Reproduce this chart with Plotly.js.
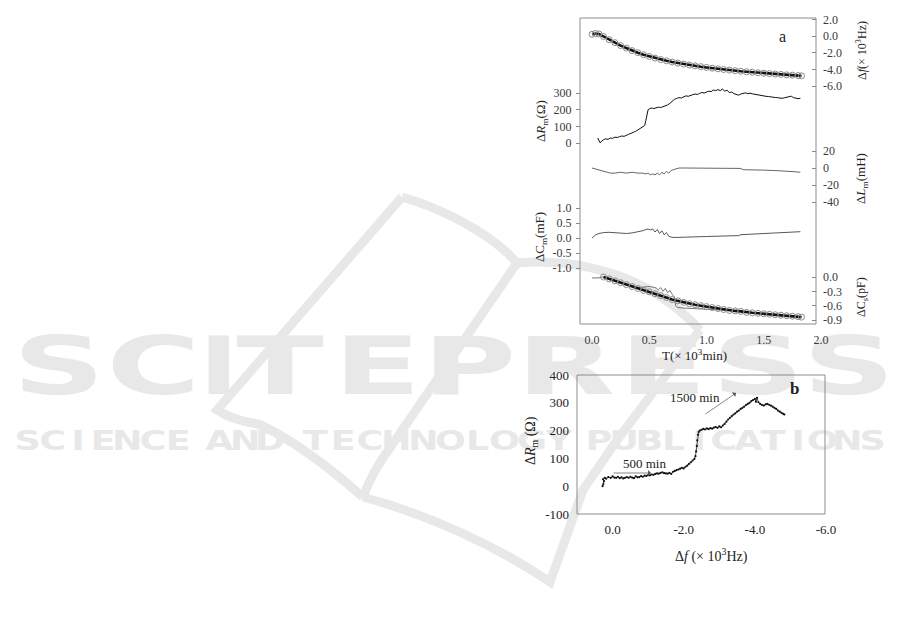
<!DOCTYPE html>
<html><head><meta charset="utf-8">
<script src="https://cdn.plot.ly/plotly-3.0.1.min.js"></script>
<style>
html,body{margin:0;padding:0;background:#fff;}
#wm,#chart{position:absolute;left:0;top:0;width:901px;height:623px;}
</style>
</head><body>
<div id="wm"></div><div id="chart"></div>
<script>
// ---------------- DATA ----------------
const T_f = [0.00,0.03,0.06,0.10,0.15,0.20,0.25,0.30,0.35,0.40,0.45,0.50,0.55,0.60,0.65,0.70,0.75,0.80,0.85,0.90,0.95,1.00,1.05,1.10,1.15,1.20,1.25,1.30,1.35,1.40,1.45,1.50,1.55,1.60,1.65,1.70,1.75,1.80,1.83];
const df_a = [0.2,0.3,0.25,-0.05,-0.45,-0.8,-1.15,-1.45,-1.75,-2.0,-2.25,-2.45,-2.65,-2.82,-2.98,-3.12,-3.25,-3.37,-3.48,-3.58,-3.68,-3.77,-3.86,-3.94,-4.02,-4.09,-4.16,-4.23,-4.29,-4.35,-4.41,-4.46,-4.51,-4.56,-4.61,-4.66,-4.70,-4.75,-4.78];
const T_R = [0.05,0.06,0.07,0.08,0.10,0.12,0.14,0.16,0.18,0.20,
0.22,0.24,0.26,0.28,0.30,0.32,0.34,0.36,0.38,0.40,
0.42,0.44,0.46,0.47,0.48,0.49,0.50,0.52,0.54,0.56,
0.58,0.60,0.62,0.64,0.66,0.68,0.70,0.72,0.74,0.76,
0.78,0.80,0.82,0.84,0.86,0.88,0.90,0.92,0.94,0.96,
0.98,1.00,1.02,1.04,1.06,1.08,1.10,1.12,1.14,1.16,
1.18,1.20,1.22,1.24,1.26,1.28,1.30,1.32,1.34,1.36,
1.38,1.40,1.42,1.44,1.46,1.48,1.50,1.52,1.54,1.56,
1.58,1.60,1.62,1.64,1.66,1.68,1.70,1.72,1.74,1.76,
1.78,1.80,1.82];
const dR_a = [30,12,2,8,20,25,22,30,28,35,
33,38,42,40,48,52,58,62,70,78,
88,95,105,135,175,200,205,210,207,212,
215,213,218,222,228,238,252,262,268,272,
270,278,283,280,287,290,294,291,298,303,
300,307,311,308,318,314,320,315,323,311,
317,302,306,296,290,287,294,298,301,296,
299,295,292,291,287,285,283,280,279,276,
275,273,272,270,268,271,273,277,281,272,
268,266,268];
const T_L = [0.00,0.08,0.12,0.16,0.20,0.25,0.30,0.35,0.40,0.44,0.47,0.49,0.51,0.53,0.55,0.57,0.59,0.61,0.63,0.65,0.67,0.69,0.71,0.73,0.76,0.80,0.90,1.00,1.10,1.20,1.30,1.32,1.34,1.40,1.50,1.60,1.70,1.78,1.82];
const dL_a = [0,-3,-5,-6,-6,-5,-6,-5,-6,-6,-7,-6,-8,-7,-8,-6,-8,-5,-7,-4,-6,-3,-2,-1,0,0,0,0,0,0,-0.5,-2,-2,-2,-2.5,-3,-3.5,-4.5,-5];
const T_Cm = [0.00,0.03,0.06,0.10,0.15,0.20,0.25,0.30,0.35,0.40,0.44,0.47,0.49,0.51,0.53,0.55,0.57,0.59,0.61,0.63,0.65,0.67,0.70,0.75,0.80,0.90,1.00,1.10,1.20,1.28,1.30,1.40,1.50,1.60,1.70,1.80,1.82];
const dCm_a = [0.0,0.1,0.15,0.18,0.19,0.18,0.17,0.15,0.17,0.2,0.24,0.28,0.3,0.27,0.3,0.2,0.28,0.15,0.24,0.11,0.18,0.06,0.02,0.02,0.03,0.04,0.05,0.06,0.07,0.08,0.11,0.13,0.15,0.16,0.18,0.21,0.21];
const T_Cs = [0.10,0.15,0.20,0.25,0.30,0.35,0.40,0.45,0.50,0.55,0.60,0.65,0.70,0.75,0.80,0.85,0.90,0.95,1.00,1.05,1.10,1.15,1.20,1.25,1.30,1.35,1.40,1.45,1.50,1.55,1.60,1.65,1.70,1.75,1.80,1.83];
const dCs_a = [0.0,-0.04,-0.08,-0.12,-0.16,-0.2,-0.24,-0.28,-0.31,-0.35,-0.39,-0.43,-0.47,-0.5,-0.53,-0.56,-0.58,-0.6,-0.62,-0.64,-0.66,-0.68,-0.7,-0.71,-0.72,-0.74,-0.75,-0.76,-0.77,-0.78,-0.79,-0.8,-0.81,-0.82,-0.83,-0.84];
const T_Cs2 = [0.00,0.05,0.10,0.20,0.30,0.40,0.44,0.47,0.50,0.53,0.56,0.58,0.60,0.62,0.64,0.66,0.68,0.70,0.72,0.73,0.75,0.80,0.90,1.00,1.05,1.10,1.20,1.50,1.83];
const dCs2_a = [-0.02,-0.02,0.0,-0.08,-0.16,-0.22,-0.21,-0.2,-0.2,-0.21,-0.23,-0.27,-0.22,-0.3,-0.24,-0.33,-0.28,-0.36,-0.42,-0.6,-0.64,-0.65,-0.66,-0.67,-0.67,-0.68,-0.7,-0.77,-0.84];
const b_df = [0.28,0.26,0.24,0.27,0.22,0.18,0.12,0.05,0.0,
-0.05,-0.1,-0.15,-0.2,-0.25,-0.3,-0.35,-0.4,-0.45,-0.5,-0.55,-0.6,-0.65,-0.7,-0.75,-0.8,-0.85,-0.9,-0.95,-1.0,
-1.05,-1.1,-1.15,-1.2,-1.25,-1.3,-1.35,-1.4,-1.45,-1.5,-1.55,-1.6,-1.65,-1.7,-1.75,-1.8,-1.85,-1.9,-1.95,-2.0,
-2.05,-2.1,-2.15,-2.2,-2.25,-2.3,
-2.33,-2.35,-2.37,-2.38,-2.4,-2.42,-2.45,
-2.5,-2.55,-2.6,-2.65,-2.7,-2.75,-2.8,-2.85,-2.9,-2.95,-3.0,-3.05,-3.1,-3.15,-3.2,-3.25,-3.3,-3.35,-3.4,-3.45,
-3.5,-3.55,-3.6,-3.65,-3.7,-3.75,-3.8,-3.85,-3.9,-3.95,-4.0,
-4.03,-4.06,-4.1,
-4.15,-4.2,-4.25,-4.3,-4.35,-4.4,-4.45,-4.5,-4.55,-4.6,-4.65,-4.7,-4.75,-4.8,
-4.83];
const b_dR = [0,8,18,25,30,27,33,30,35,
31,30,34,29,32,28,30,33,30,34,31,29,35,32,33,36,34,38,37,40,
39,42,41,44,46,45,48,50,47,46,45,48,44,52,55,58,60,63,66,64,
70,74,80,86,92,98,
108,125,145,165,185,195,200,
203,206,204,208,205,209,207,211,213,210,215,212,218,224,232,240,246,252,258,262,
268,272,278,282,286,292,296,300,306,310,314,
304,318,302,
296,292,290,294,296,293,290,286,282,278,272,268,264,260,
258];
const ticksT = [0,0.5,1,1.5,2], ticksT_txt = ['0.0','0.5','1.0','1.5','2.0'];
const ticksR = [0,100,200,300], ticksR_txt = ['0','100','200','300'];
const ticksF = [2,0,-2,-4,-6], ticksF_txt = ['2.0','0.0','-2.0','-4.0','-6.0'];
const ticksL = [20,0,-20,-40], ticksL_txt = ['20','0','-20','-40'];
const ticksCm = [1,0.5,0,-0.5,-1], ticksCm_txt = ['1.0','0.5','0.0','-0.5','-1.0'];
const ticksCs = [0,-0.3,-0.6,-0.9], ticksCs_txt = ['0.0','-0.3','-0.6','-0.9'];
const ticksBx = [0,-2,-4,-6], ticksBx_txt = ['0.0','-2.0','-4.0','-6.0'];
const ticksBy = [-100,0,100,200,300,400], ticksBy_txt = ['-100','0','100','200','300','400'];

// ---------------- LAYOUT ----------------
const W = 901, H = 623;
const fx = p => p / W, fy = p => 1 - p / H;
function rng(v1, p1, v2, p2, top, bot) {
  const k = (p2 - p1) / (v2 - v1);
  return [v1 + (bot - p1) / k, v1 + (top - p1) / k];
}
const SERIF = 'Liberation Serif, Times New Roman, serif';
const tfA = {family: SERIF, size: 12, color: '#3a3a3a'};
const tfB = {family: SERIF, size: 13, color: '#222'};
const A_TOP = 18, A_BOT = 324, A_L = 580, A_R = 816;
const baseY = {showgrid: false, zeroline: false, showline: false, ticks: 'outside', ticklen: 4,
  tickcolor: '#888', tickwidth: 1, tickfont: tfA, domain: [fy(A_BOT), fy(A_TOP)], anchor: 'free'};
const leftY = Object.assign({}, baseY, {side: 'left', position: fx(A_L), ticklabelstandoff: 2});
const rightY = Object.assign({}, baseY, {side: 'right', position: fx(A_R), ticks: 'inside', ticklabelstandoff: 6});
const bigLine = {color: '#111', width: 2.6};
const bigMarker = {symbol: 'circle-open', size: 6, color: '#8a8a8a', line: {width: 1, color: '#8a8a8a'}};
const traces = [
  {x: T_f, y: df_a, yaxis: 'y3', xaxis: 'x', mode: 'lines+markers', line: bigLine, marker: bigMarker},
  {x: T_R, y: dR_a, yaxis: 'y', xaxis: 'x', mode: 'lines', line: {color: '#111', width: 1}},
  {x: T_L, y: dL_a, yaxis: 'y4', xaxis: 'x', mode: 'lines', line: {color: '#555', width: 0.9}},
  {x: T_Cm, y: dCm_a, yaxis: 'y5', xaxis: 'x', mode: 'lines', line: {color: '#444', width: 0.9}},
  {x: T_Cs2, y: dCs2_a, yaxis: 'y6', xaxis: 'x', mode: 'lines', line: {color: '#666', width: 0.9}},
  {x: T_Cs, y: dCs_a, yaxis: 'y6', xaxis: 'x', mode: 'lines+markers', line: bigLine, marker: bigMarker},
  {x: b_df, y: b_dR, xaxis: 'x2', yaxis: 'y2', mode: 'lines+markers', line: {color: '#222', width: 0.8},
   marker: {size: 2.2, color: '#111'}}
];
function ann(text, x, y, size, angle, extra) {
  return Object.assign({text: text, xref: 'paper', yref: 'paper', x: fx(x), y: fy(y), showarrow: false,
    xanchor: 'center', yanchor: 'middle', textangle: angle || 0,
    font: {family: SERIF, size: size, color: '#222'}}, extra || {});
}
function arrow(hx, hy, tx, ty) {
  return {text: '', xref: 'paper', yref: 'paper', x: fx(hx), y: fy(hy), ax: tx - hx, ay: ty - hy,
    showarrow: true, arrowhead: 1, arrowsize: 1.4, arrowwidth: 0.7, arrowcolor: '#555', standoff: 0, startstandoff: 0};
}
const layout = {
  width: W, height: H, margin: {l: 0, r: 0, t: 0, b: 0, pad: 0},
  paper_bgcolor: 'rgba(0,0,0,0)', plot_bgcolor: 'rgba(0,0,0,0)', showlegend: false,
  xaxis: {domain: [fx(A_L), fx(821)], range: [-0.105, 2.0], anchor: 'y', showgrid: false, zeroline: false,
    showline: false, ticks: '', tickvals: ticksT, ticktext: ticksT_txt, tickfont: tfA, ticklabelstandoff: 7},
  yaxis: Object.assign({}, leftY, {range: rng(0, 143, 300, 93, A_TOP, A_BOT), tickvals: ticksR, ticktext: ticksR_txt}),
  yaxis3: Object.assign({}, rightY, {overlaying: 'y', range: rng(0, 36, -6, 86, A_TOP, A_BOT), tickvals: ticksF, ticktext: ticksF_txt}),
  yaxis4: Object.assign({}, rightY, {overlaying: 'y', range: rng(20, 151, -40, 202, A_TOP, A_BOT), tickvals: ticksL, ticktext: ticksL_txt}),
  yaxis5: Object.assign({}, leftY, {overlaying: 'y', range: rng(1, 208, -1, 268, A_TOP, A_BOT), tickvals: ticksCm, ticktext: ticksCm_txt}),
  yaxis6: Object.assign({}, rightY, {overlaying: 'y', range: rng(0, 277, -0.9, 320, A_TOP, A_BOT), tickvals: ticksCs, ticktext: ticksCs_txt}),
  xaxis2: {domain: [fx(577), fx(826)], range: [1.0, -6.0], anchor: 'y2', showgrid: false, zeroline: false,
    showline: false, ticks: '', tickvals: ticksBx, ticktext: ticksBx_txt, tickfont: tfB, ticklabelstandoff: 6},
  yaxis2: {domain: [fy(514), fy(375)], range: [-100, 400], anchor: 'x2', showgrid: false, zeroline: false,
    showline: false, ticks: '', tickvals: ticksBy, ticktext: ticksBy_txt, tickfont: tfB, ticklabelstandoff: 7},
  shapes: [
    {type: 'rect', xref: 'paper', yref: 'paper', x0: fx(A_L), x1: fx(A_R), y0: fy(A_BOT), y1: fy(A_TOP),
     line: {color: '#8c8c8c', width: 1}},
    {type: 'rect', xref: 'paper', yref: 'paper', x0: fx(577), x1: fx(825), y0: fy(514), y1: fy(375),
     line: {color: '#8c8c8c', width: 1}}
  ],
  annotations: [
    ann('a', 782, 36, 16),
    ann('Δ<i>R</i><sub>m</sub>(Ω)', 541, 121, 13, -90),
    ann('ΔC<sub>m</sub>(mF)', 541, 237, 13, -90),
    ann('Δ<i>f</i>(× 10<sup>3</sup>Hz)', 862, 51, 12, -90),
    ann('Δ<i>L</i><sub>m</sub>(mH)', 862, 179, 13, -90),
    ann('ΔC<sub>s</sub>(pF)', 862, 297, 12, -90),
    ann('T(× 10<sup>3</sup>min)', 694, 355, 13),
    ann('<b>b</b>', 794, 388, 17),
    ann('Δ<i>R</i><sub>m</sub> (Ω)', 532, 441, 14, -90),
    ann('Δ<i>f</i> (× 10<sup>3</sup>Hz)', 711, 555, 14),
    ann('500 min', 644, 463, 13),
    ann('1500 min', 695, 397, 13),
    arrow(651, 473, 612, 473),
    arrow(736, 393, 704, 415)
  ]
};
Plotly.newPlot('chart', traces, layout, {staticPlot: true, displayModeBar: false});

// ---------------- WATERMARK (behind the chart) ----------------
const WM = '#e8e8e8';
const wmAnn = [];
function letters(word, x0, x1, yc, size) {
  const n = word.length, step = (x1 - x0) / n;
  for (let i = 0; i < n; i++) {
    wmAnn.push({text: word[i], x: x0 + step * (i + 0.5), y: yc, xref: 'x', yref: 'y', showarrow: false,
      xanchor: 'center', yanchor: 'middle', font: {family: 'DejaVu Sans', size: size, color: WM, weight: 'bold'}});
  }
}
const big = [['S',17,100],['C',110,197],['I',207,230],['T',233,327],['E',337,417],['P',427,512],['R',522,610],['E',622,705],['S',715,800],['S',807,890]];
big.forEach(b => letters(b[0], b[1], b[2], 366, 80));
letters('SCIENCE', 15, 190, 440, 27);
letters('AND', 207, 283, 440, 27);
letters('TECHNOLOGY', 302, 572, 440, 27);
letters('PUBLICATIONS', 587, 885, 440, 27);
const wmLine = {color: WM, width: 9};
const wmLayout = {
  width: W, height: H, margin: {l: 0, r: 0, t: 0, b: 0, pad: 0},
  paper_bgcolor: '#fff', plot_bgcolor: '#fff', showlegend: false,
  xaxis: {range: [0, W], visible: false, fixedrange: true},
  yaxis: {range: [H, 0], visible: false, fixedrange: true},
  shapes: [
    {type: 'path', xref: 'x', yref: 'y', path: 'M 402,197 L 217,410 Q 232,420 258,424 Q 300,442 363,497', line: wmLine, layer: 'below'},
    {type: 'path', xref: 'x', yref: 'y', path: 'M 402,197 C 440,208 490,232 517,263 C 570,258 645,270 700,330', line: wmLine, layer: 'below'},
    {type: 'path', xref: 'x', yref: 'y', path: 'M 517,263 L 392,445 Q 372,472 363,497', line: wmLine, layer: 'below'},
    {type: 'path', xref: 'x', yref: 'y', path: 'M 363,497 C 430,515 500,548 550,582 L 583,490 L 617,440 L 700,330', line: wmLine, layer: 'below'}
  ],
  annotations: wmAnn
};
function widen() {
  document.querySelectorAll('#wm .annotation-text').forEach(el => {
    const bb = el.getBBox();
    const isBig = bb.height > 50;
    const ch = (el.textContent || '').trim();
    const s = isBig ? (ch === 'I' ? 1.35 : 1.6) : 1.35;
    const cx = bb.x + bb.width / 2;
    el.setAttribute('transform', 'translate(' + cx + ',0) scale(' + s + ',1) translate(' + (-cx) + ',0)');
  });
}
Plotly.newPlot('wm', [], wmLayout, {staticPlot: true, displayModeBar: false}).then(widen);
</script>
</body></html>
